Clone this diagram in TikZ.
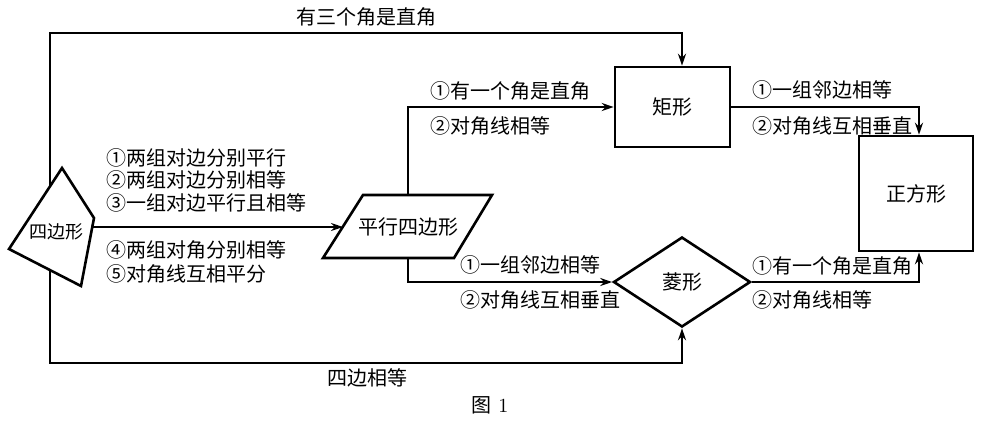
\documentclass[tikz,border=0pt]{standalone}
\usepackage{fontspec}
\newfontfamily\cjk{Noto Sans CJK SC}
\usetikzlibrary{shapes.geometric,arrows.meta}

\begin{document}
\begin{tikzpicture}[x=0.5pt,y=-0.5pt,
  txt/.style={font=\cjk\fontsize{10}{12}\selectfont,inner sep=0pt},
  lbl/.style={txt,anchor=west},
  box/.style={draw,line width=1.3pt,txt},
  conn/.style={line width=1pt,-{Stealth[length=6pt,width=4pt]}}]
\useasboundingbox[fill=white] (0,0) rectangle (1000,425);
% quadrilateral
\draw[line width=1.3pt] (62,168) -- (94,218) -- (81,286) -- (9,249) -- cycle;
\node[txt,font=\cjk\fontsize{9}{11}\selectfont] (quad) at (56,232) {四边形};
\coordinate (qTL) at (50,186);
\coordinate (qBL) at (50,270);
\coordinate (qR) at (92.5,227);
% parallelogram
\draw[line width=1.3pt] (363,195) -- (492,195) -- (454,258) -- (323,258) -- cycle;
\node[txt] (para) at (408,227) {平行四边形};
\coordinate (paraT) at (408,195);
\coordinate (paraB) at (408,258);
\coordinate (paraL) at (343,227);
% rectangle, square, rhombus
\node[box,minimum width=57.5pt,minimum height=40pt] (rect) at (672.5,107) {矩形};
\node[box,minimum width=57pt,minimum height=57.5pt] (sq) at (916,193.5) {正方形};
\node[box,diamond,minimum width=68.5pt,minimum height=45pt] (rhomb) at (682,282) {菱形};
\coordinate (topY) at (0,33);
\coordinate (botY) at (0,363);
% connectors
\draw[conn] (qTL) -- (qTL |- topY) -| ([xshift=4.75pt]rect.north);
\draw[conn] (qBL) -- (qBL |- botY) -| (rhomb.south);
\draw[conn] (qR) -- (paraL);
\draw[conn] (paraT) |- (rect.west);
\draw[conn] (paraB) |- (rhomb.west);
\draw[conn] (rect.east) -| ([xshift=1.5pt]sq.north);
\draw[conn] (rhomb.east) -| ([xshift=1.5pt]sq.south);
% labels
\node[txt] (lblTop) at (366,17) {有三个角是直角};
\node[txt] (lblBot) at (367,378) {四边相等};
\node[lbl] (lblQa) at (106,158) {①两组对边分别平行};
\node[lbl] (lblQb) at (106,180) {②两组对边分别相等};
\node[lbl] (lblQc) at (106,203) {③一组对边平行且相等};
\node[lbl] (lblQd) at (106,250) {④两组对角分别相等};
\node[lbl] (lblQe) at (106,274) {⑤对角线互相平分};
\node[lbl] (lblRa) at (430,91) {①有一个角是直角};
\node[lbl] (lblRb) at (430,126) {②对角线相等};
\node[lbl] (lblHa) at (460,265) {①一组邻边相等};
\node[lbl] (lblHb) at (460,300) {②对角线互相垂直};
\node[lbl] (lblSa) at (752,90) {①一组邻边相等};
\node[lbl] (lblSb) at (752,126) {②对角线互相垂直};
\node[lbl] (lblTa) at (752,266) {①有一个角是直角};
\node[lbl] (lblTb) at (752,300) {②对角线相等};
\node[inner sep=0pt] (cap) at (490,405) {{\cjk 图}\ 1};
\end{tikzpicture}
\end{document}
